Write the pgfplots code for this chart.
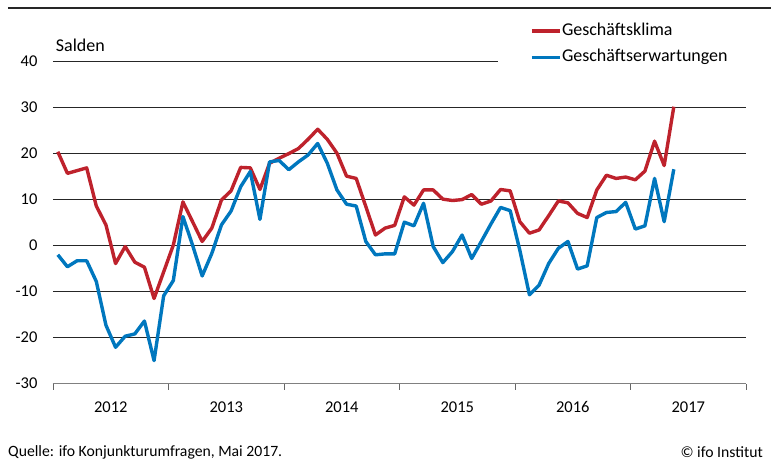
\documentclass[border=0pt]{standalone}
\usepackage{pgfplots}
\pgfplotsset{compat=1.18}
\usepackage{pgfplotstable}
\usepackage{fontspec}
\setmainfont{Carlito}
\definecolor{ifored}{RGB}{190,34,44}
\definecolor{ifoblue}{RGB}{0,119,190}
\pgfplotstableread{
x red blue
0.5 20.4 -2.0
1.5 15.7 -4.6
2.5 16.3 -3.3
3.5 16.9 -3.3
4.5 8.6 -7.8
5.5 4.5 -17.3
6.5 -3.9 -22.1
7.5 -0.2 -19.7
8.5 -3.6 -19.2
9.5 -4.7 -16.4
10.5 -11.5 -25.0
11.5 -5.7 -10.9
12.5 0.1 -7.6
13.5 9.5 6.3
14.5 5.2 0.1
15.5 0.9 -6.6
16.5 3.8 -1.7
17.5 9.9 4.5
18.5 11.9 7.5
19.5 17.0 12.8
20.5 16.9 16.1
21.5 12.2 5.7
22.5 17.9 18.2
23.5 19.0 18.5
24.5 20.0 16.5
25.5 21.1 18.2
26.5 23.1 19.7
27.5 25.3 22.2
28.5 23.1 17.9
29.5 20.1 12.1
30.5 15.1 9.0
31.5 14.6 8.6
32.5 8.5 0.9
33.5 2.3 -2.0
34.5 3.8 -1.8
35.5 4.4 -1.8
36.5 10.6 5.1
37.5 8.8 4.3
38.5 12.1 9.2
39.5 12.1 -0.2
40.5 10.1 -3.7
41.5 9.8 -1.3
42.5 10.0 2.3
43.5 11.1 -2.8
44.5 9.0 0.9
45.5 9.7 4.7
46.5 12.2 8.3
47.5 11.9 7.6
48.5 5.2 -1.0
49.5 2.7 -10.7
50.5 3.4 -8.6
51.5 6.5 -3.9
52.5 9.7 -0.6
53.5 9.3 0.9
54.5 7.0 -5.1
55.5 6.1 -4.4
56.5 12.1 6.1
57.5 15.3 7.2
58.5 14.6 7.4
59.5 14.9 9.4
60.5 14.3 3.6
61.5 16.2 4.3
62.5 22.7 14.6
63.5 17.4 5.2
64.5 30.2 16.6
}\datatable
\begin{document}
\begin{tikzpicture}
\path[use as bounding box] (-53pt,-76.4pt) rectangle (718pt,383.6pt);
\draw[line width=2pt, black!85] (-45pt,375.6pt) -- (718pt,375.6pt);
\begin{axis}[
  at={(0,0)}, anchor=south west,
  scale only axis, width=693pt, height=322pt,
  xmin=0, xmax=72, ymin=-30, ymax=40,
  separate axis lines,
  axis x line*=bottom, axis y line*=left,
  x axis line style={draw=black!50, line width=1.6pt, -},
  y axis line style={draw=none},
  xtick={0,12,...,72},
  x tick label as interval=true,
  xticklabels={2012,2013,2014,2015,2016,2017},
  xtick style={draw=black!60, line width=0.8pt},
  tick align=outside,
  major tick length=6pt,
  ytick={-30,-20,...,40},
  ytick style={draw=none},
  ymajorgrids,
  grid style={black!85, line width=0.8pt},
  tick label style={font=\fontsize{16.5}{20}\selectfont},
  /pgf/number format/assume math mode=true,
  yticklabel style={xshift=-6pt},
  xticklabel style={yshift=-8pt, text height=11pt, text depth=0pt},
  clip=false,
  legend style={
    at={(rel axis cs:0.642,1.132)}, anchor=north west,
    draw=none, fill=white, inner xsep=32pt, inner ysep=3pt,
    font=\fontsize{18}{22}\selectfont,
    row sep=9pt,
    nodes={inner sep=0.5pt, text height=12.5pt, text depth=4pt},
    cells={anchor=west},
  },
  legend image code/.code={\draw[#1, line width=3.4pt] (0pt,0pt) -- (28pt,0pt);},
]
\addplot[ifored, line width=3.4pt, line join=round] table[x=x, y=red] {\datatable};
\addlegendentry{Geschäftsklima}
\addplot[ifoblue, line width=3.4pt, line join=round] table[x=x, y=blue] {\datatable};
\addlegendentry{Geschäftserwartungen}
\node[anchor=west, font=\fontsize{18}{22}\selectfont, inner sep=0pt] at (rel axis cs:0.004,1.0516) {Salden};
\end{axis}
\node[anchor=west, font=\fontsize{15.7}{19}\selectfont, inner sep=0pt] at (-45pt,-68.4pt) {Quelle: ifo Konjunkturumfragen, Mai 2017.};
\node[anchor=east, font=\fontsize{15.7}{19}\selectfont, inner sep=0pt] at (710pt,-68.4pt) {© ifo Institut};
\end{tikzpicture}
\end{document}
